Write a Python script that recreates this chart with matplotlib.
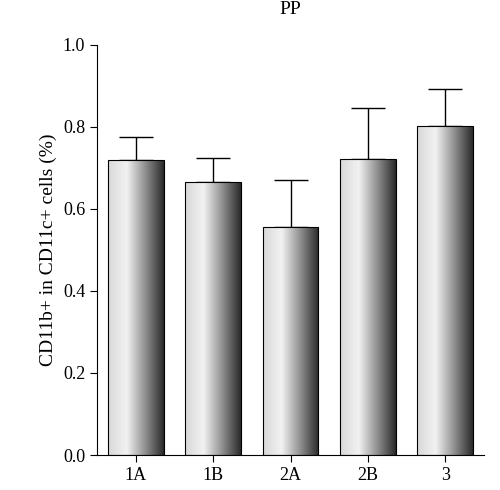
import matplotlib
matplotlib.use("Agg")
import matplotlib.pyplot as plt
import numpy as np
from matplotlib.patches import Rectangle
from matplotlib.colors import LinearSegmentedColormap

categories = ["1A", "1B", "2A", "2B", "3"]
values = [0.72, 0.665, 0.555, 0.722, 0.802]
errors = [0.055, 0.06, 0.115, 0.123, 0.09]

plt.rcParams['font.family'] = ['Liberation Serif', 'DejaVu Serif']
fig = plt.figure(figsize=(5, 4.9), dpi=100)
ax = fig.add_axes([0.194, 0.0714, 0.774, 0.837])
cmap = LinearSegmentedColormap.from_list("g", ["#d8d8d8", "#f2f2f2", "#909090", "#2a2a2a"])
grad = np.linspace(0, 1, 256).reshape(1, -1)
w = 0.72
x = np.arange(len(categories))
for xi, v, e in zip(x, values, errors):
    ax.errorbar(xi, v, yerr=[[0], [e]], color="black", capsize=12, lw=1, capthick=1, zorder=1)
    im = ax.imshow(grad, cmap=cmap, extent=[xi - w/2, xi + w/2, 0, v], aspect="auto", zorder=2)
    r = Rectangle((xi - w/2, 0), w, v, fill=False, ec="black", lw=0.8, zorder=3)
    ax.add_patch(r)
    im.set_clip_path(r)
ax.set_xlim(-0.5, 4.5)
ax.set_ylim(0, 1.0)
ax.set_xticks(x)
ax.set_xticklabels(categories)
ax.set_yticks(np.arange(0, 1.01, 0.2))
ax.set_yticklabels([f"{t:.1f}" for t in np.arange(0, 1.01, 0.2)])
ax.tick_params(labelsize=13, direction="out", length=5)
ax.spines["top"].set_visible(False)
ax.spines["right"].set_visible(False)
ax.set_ylabel("CD11b+ in CD11c+ cells (%)", fontsize=14)
ax.set_title("PP", fontsize=14, pad=22)
fig.savefig("out.png")
